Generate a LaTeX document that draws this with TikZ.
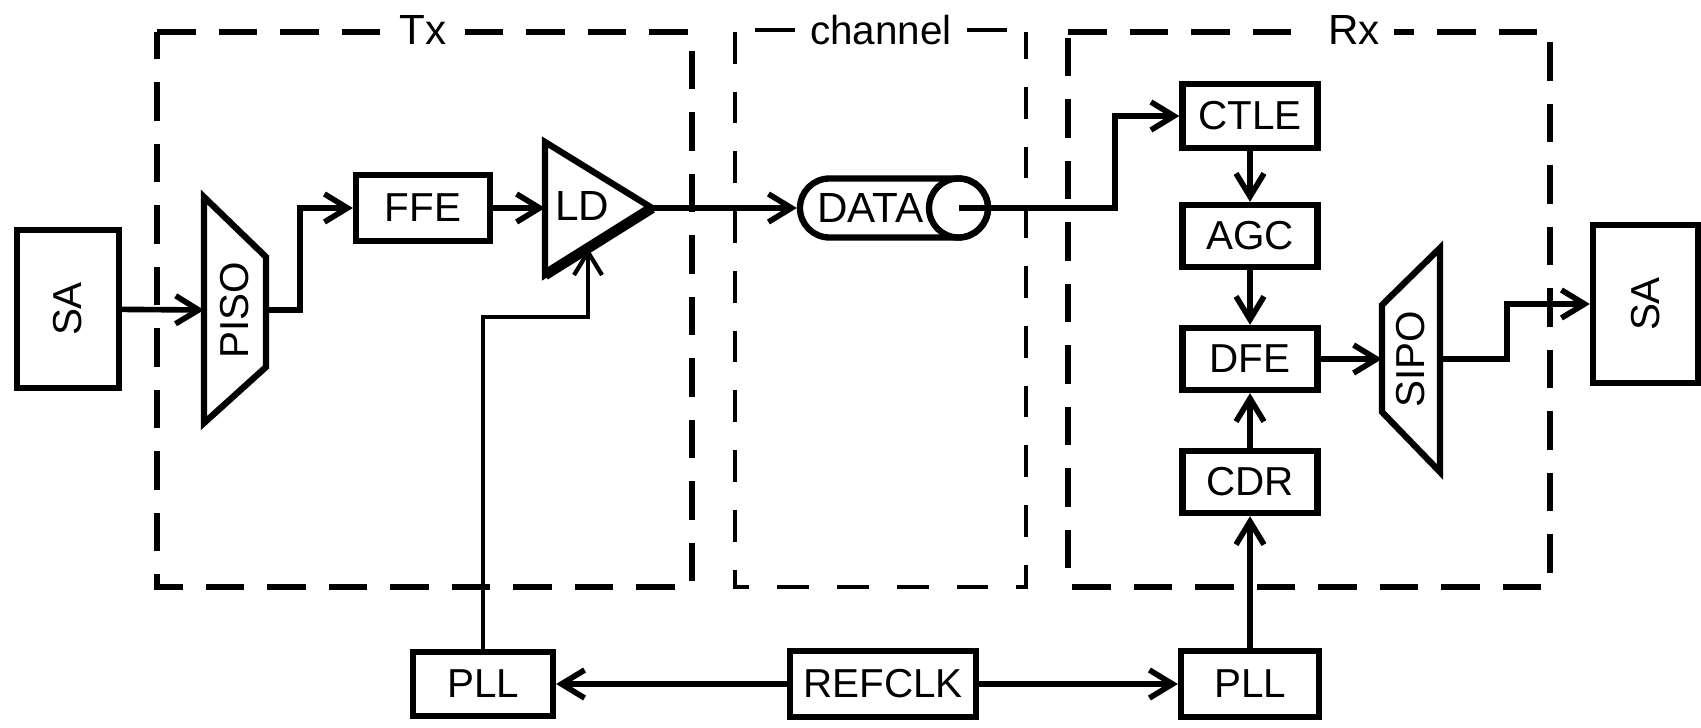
\documentclass[tikz,border=0pt]{standalone}
\usepackage{fontspec}
\setmainfont{Liberation Sans}
\usepackage{graphicx}
\usepackage{tikz}
\usetikzlibrary{calc, arrows.meta}

\tikzset{
  blk/.style={draw, line width=1.8pt, minimum width=1.35cm, minimum height=0.62cm,
    inner sep=0pt, font=\fontsize{11.5}{13}\selectfont},
  conn/.style={line width=1.6pt, -{Straight Barb[length=2.3mm,width=2.8mm]}},
  shape edge/.style={line width=1.8pt, line join=miter},
  frame/.style={line width=1.6pt, dash pattern=on 11pt off 6.5pt},
  chanframe/.style={line width=1.1pt, dash pattern=on 9pt off 8pt},
  framelabel/.style={fill=white, inner sep=4pt, font=\fontsize{12}{14}\selectfont}
}

\begin{document}
\begin{tikzpicture}
  \useasboundingbox (0,0) rectangle (17.01,7.27);

  % Tx frame
  \draw[frame] (1.57,6.95) -- (6.92,6.95) -- (6.92,1.40) -- (1.57,1.40) -- cycle;
  \node[framelabel] (txlbl) at (4.23,6.97) {Tx};
  % channel frame (open top)
  \draw[chanframe] (7.35,6.95) -- (7.35,1.40) -- (10.26,1.40) -- (10.26,6.95);
  \node[framelabel, font=\fontsize{11.5}{14}\selectfont] (chanlbl) at (8.81,6.97) {channel};
  \draw[line width=1.1pt] (chanlbl.west) -- ++(-0.40,0);
  \draw[line width=1.1pt] (chanlbl.east) -- ++(0.40,0);
  % Rx frame
  \draw[frame] (10.68,6.95) -- (15.50,6.95) -- (15.50,1.40) -- (10.68,1.40) -- cycle;
  \node[framelabel] (rxlbl) at (13.54,6.97) {Rx};

  % source SA and PISO
  \node[blk, minimum width=1.02cm, minimum height=1.58cm] (saL) at (0.68,4.18) {\rotatebox{90}{SA}};
  \draw[shape edge] (2.04,5.30) -- (2.66,4.70) -- (2.66,3.60) -- (2.04,3.04) -- cycle;
  \node[font=\fontsize{11.5}{13}\selectfont] (piso) at (2.35,4.17) {\rotatebox{90}{PISO}};
  \coordinate (pisoin) at (2.04,4.17);
  \coordinate (pisoout) at (2.66,4.17);

  % FFE and driver
  \node[blk, minimum width=1.34cm, minimum height=0.66cm] (ffe) at (4.23,5.19) {FFE};
  \coordinate (ldtop) at (5.45,5.85);
  \coordinate (ldbot) at (5.45,4.52);
  \coordinate (ldout) at (6.52,5.19);
  \coordinate (ldin) at (5.45,5.19);
  \coordinate (ldclk) at (5.88,4.79);
  \draw[shape edge] (ldtop) -- (ldout) -- (ldbot) -- cycle;
  \draw[line width=3pt] (ldbot) -- (ldout);
  \node[font=\fontsize{12}{13}\selectfont] (ld) at (5.82,5.21) {LD};

  % channel
  \node[draw, line width=1.8pt, rounded corners=0.295cm, minimum width=1.88cm,
    minimum height=0.59cm, text width=1.54cm, inner xsep=0.17cm, inner ysep=0pt,
    align=left, font=\fontsize{12}{13}\selectfont] (data) at (8.94,5.19) {DATA};
  \node[draw, circle, line width=1.8pt, minimum size=0.59cm, inner sep=0pt] (tap) at (9.585,5.19) {};

  % receiver chain
  \node[blk, minimum height=0.64cm] (ctle) at (12.50,6.11) {CTLE};
  \node[blk] (agc) at (12.50,4.91) {AGC};
  \node[blk] (dfe) at (12.50,3.68) {DFE};
  \node[blk] (cdr) at (12.50,2.45) {CDR};
  \draw[shape edge] (13.82,4.22) -- (14.40,4.79) -- (14.40,2.55) -- (13.82,3.15) -- cycle;
  \node[font=\fontsize{11.5}{13}\selectfont] (sipo) at (14.11,3.68) {\rotatebox{90}{SIPO}};
  \coordinate (sipoin) at (13.82,3.68);
  \coordinate (sipoout) at (14.40,3.68);
  \node[blk, minimum width=1.05cm, minimum height=1.58cm] (saR) at (16.455,4.23) {\rotatebox{90}{SA}};

  % clocks
  \node[blk, minimum width=1.40cm, minimum height=0.64cm] (pllL) at (4.83,0.43) {PLL};
  \node[blk, minimum width=1.86cm, minimum height=0.66cm] (refclk) at (8.83,0.43) {REFCLK};
  \node[blk, minimum width=1.38cm, minimum height=0.66cm] (pllR) at (12.50,0.43) {PLL};

  % data path
  \draw[conn] (saL) -- (pisoin);
  \draw[conn] (pisoout) -- ++(0.34,0) |- (ffe);
  \draw[conn] (ffe) -- (ldin);
  \draw[conn] (ldout) -- (data.west);
  \draw[conn] (tap.center) -- ++(1.565,0) |- (ctle);
  \draw[conn] (ctle) -- (agc);
  \draw[conn] (agc) -- (dfe);
  \draw[conn] (dfe) -- (sipoin);
  \draw[conn] (sipoout) -- ++(0.67,0) |- (saR);

  % clock path
  \draw[conn] (refclk) -- (pllL);
  \draw[conn] (refclk) -- (pllR);
  \draw[conn] (pllR) -- (cdr);
  \draw[conn] (cdr) -- (dfe);
  \draw[conn, line width=1.2pt] (pllL.north) -- ++(0,3.32) -| (ldclk);
\end{tikzpicture}
\end{document}
